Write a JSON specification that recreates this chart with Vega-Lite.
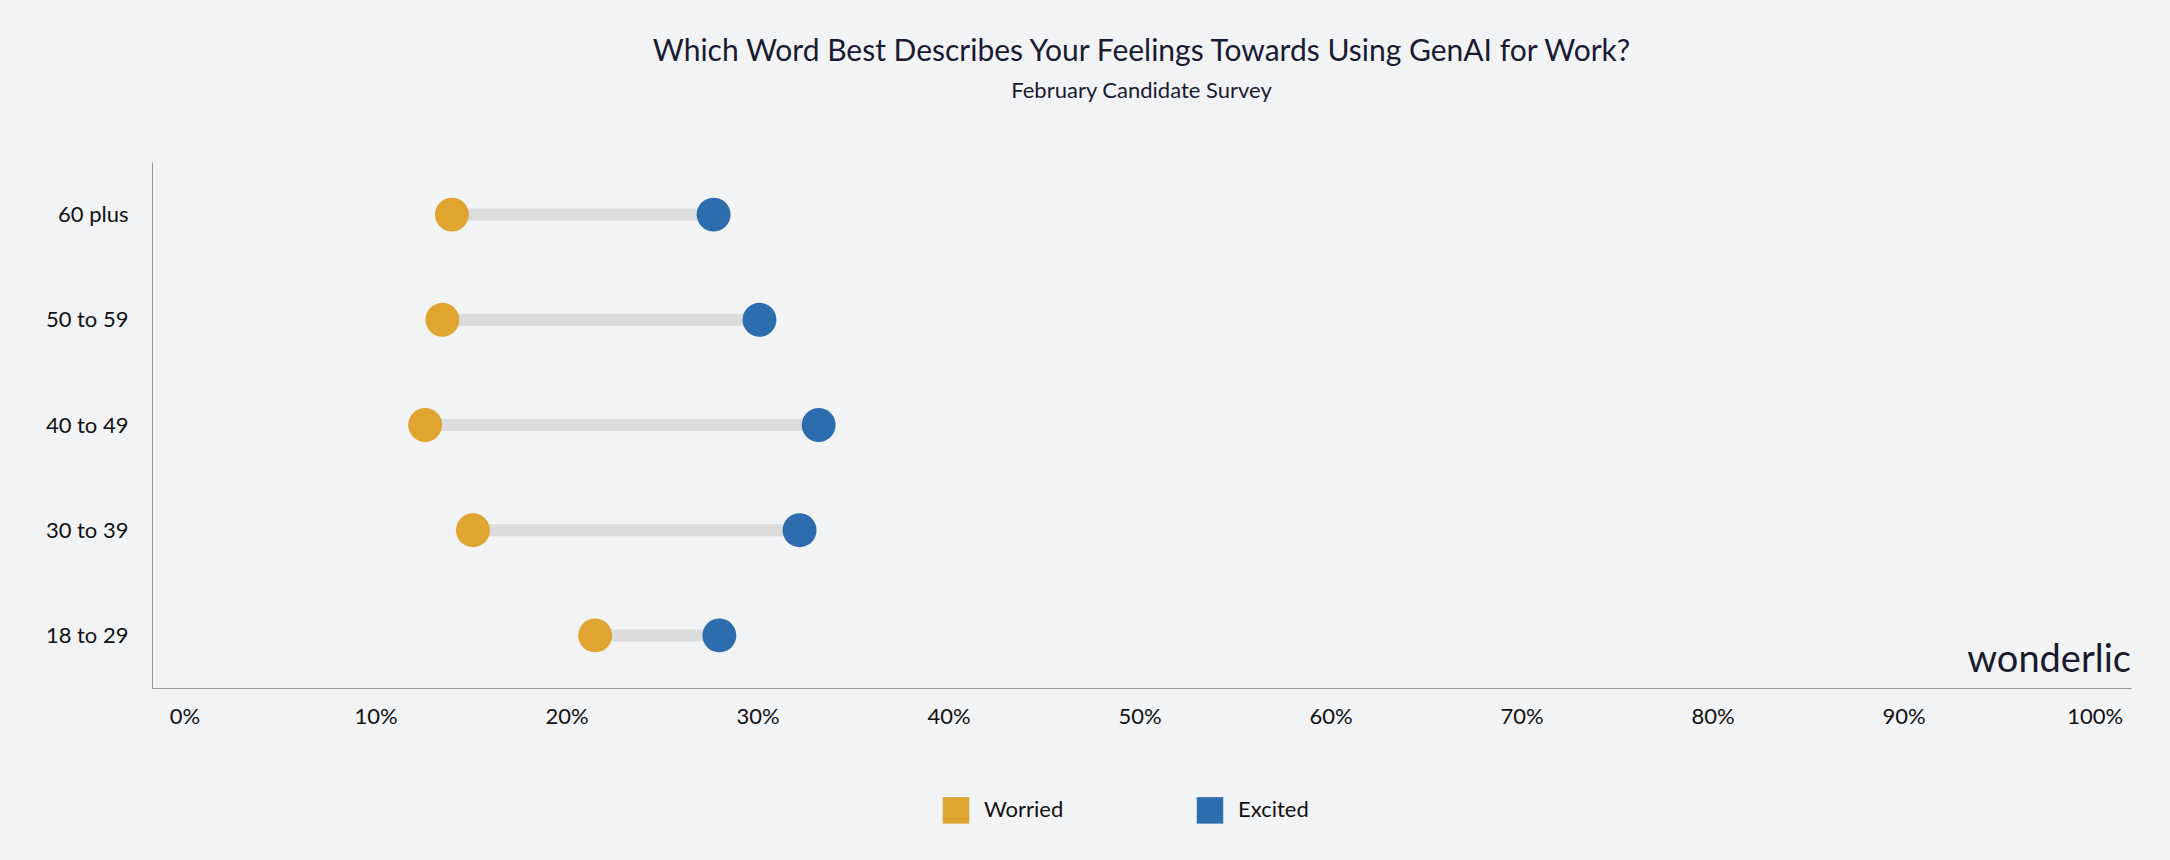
{
  "$schema": "https://vega.github.io/schema/vega-lite/v6.json",
  "autosize": "none",
  "width": 1979,
  "height": 526,
  "padding": {"left": 152, "top": 162, "right": 39, "bottom": 172},
  "background": "#f2f3f5",
  "config": {"view": {"stroke": null}},
  "title": {
    "text": "Which Word Best Describes Your Feelings Towards Using GenAI for Work?",
    "subtitle": "February Candidate Survey",
    "font": "Lato",
    "fontSize": 30,
    "fontWeight": "normal",
    "color": "#1a1a33",
    "subtitleFont": "Lato",
    "subtitleFontSize": 22,
    "subtitleColor": "#1a1a33",
    "subtitlePadding": 14,
    "offset": 60
  },
  "data": {
    "values": [
      {"age": "60 plus", "Worried": 0.140, "Excited": 0.277},
      {"age": "50 to 59", "Worried": 0.135, "Excited": 0.301},
      {"age": "40 to 49", "Worried": 0.126, "Excited": 0.332},
      {"age": "30 to 39", "Worried": 0.151, "Excited": 0.322},
      {"age": "18 to 29", "Worried": 0.215, "Excited": 0.280}
    ]
  },
  "encoding": {
    "y": {
      "field": "age", "type": "nominal", "sort": null, "title": null,
      "scale": {"type": "point", "padding": 0.5},
      "axis": {"domainColor": "#999999", "ticks": false, "labelFontSize": 22, "labelFont": "Lato", "labelColor": "#111111", "labelPadding": 24, "grid": false}
    }
  },
  "layer": [
    {
      "mark": {"type": "rule", "strokeWidth": 12, "color": "#dcdcdc"},
      "encoding": {
        "x": {"field": "Worried", "type": "quantitative"},
        "x2": {"field": "Excited"}
      }
    },
    {
      "transform": [{"fold": ["Worried", "Excited"], "as": ["feeling", "value"]}],
      "mark": {"type": "circle", "size": 1150, "opacity": 1},
      "encoding": {
        "x": {
          "field": "value", "type": "quantitative", "title": null,
          "scale": {"domain": [-0.017, 1.019], "nice": false, "zero": false},
          "axis": {"values": [0, 0.1, 0.2, 0.3, 0.4, 0.5, 0.6, 0.7, 0.8, 0.9, 1], "format": ".0%", "grid": false, "ticks": false, "domainColor": "#999999", "labelFontSize": 22, "labelFont": "Lato", "labelColor": "#111111", "labelPadding": 18}
        },
        "color": {
          "field": "feeling", "type": "nominal",
          "scale": {"domain": ["Worried", "Excited"], "range": ["#e0a431", "#2e6dad"]},
          "legend": {"title": null, "orient": "none", "legendX": 790, "legendY": 634, "direction": "horizontal", "symbolType": "square", "symbolSize": 700, "labelFontSize": 22, "labelFont": "Lato", "labelColor": "#111111", "columnPadding": 132, "labelOffset": 14}
        }
      }
    },
    {
      "data": {"values": [{"label": "wonderlic", "x": 1.019, "age": "18 to 29"}]},
      "mark": {"type": "text", "align": "right", "baseline": "middle", "fontSize": 38, "font": "Lato", "color": "#1a1a2e", "dy": 26},
      "encoding": {
        "x": {"field": "x", "type": "quantitative"},
        "text": {"field": "label"}
      }
    }
  ]
}
